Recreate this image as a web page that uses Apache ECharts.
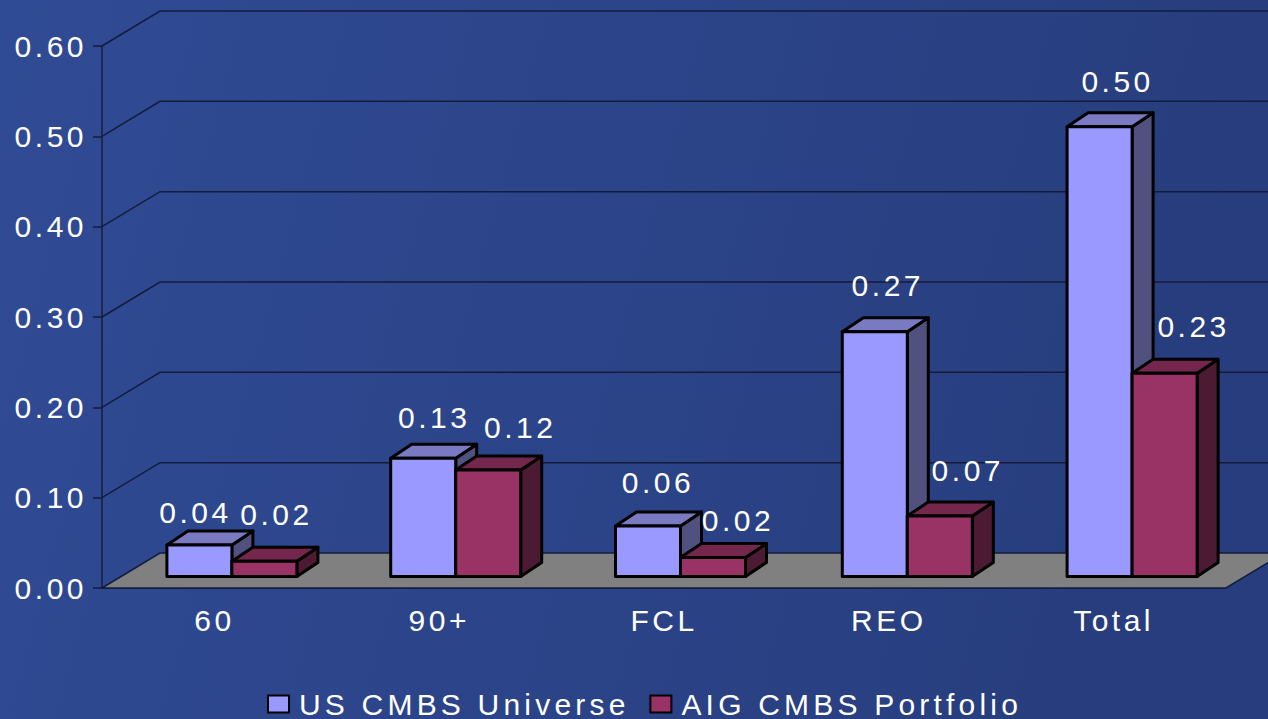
<!DOCTYPE html>
<html lang="en">
<head>
    <meta charset="UTF-8">
    <title>US CMBS Universe vs AIG CMBS Portfolio</title>
    <script src="https://cdn.jsdelivr.net/npm/echarts@6/dist/echarts.min.js"></script>
    <style>
        html, body { margin: 0; padding: 0; background: #2c4588; overflow: hidden; }
        #chart { width: 1268px; height: 719px; }
        /* wide tracking of the original slide, only the svg renderer can do this */
        #chart text { letter-spacing: 3.5px; }
    </style>
</head>
<body>
    <div id="chart"></div>
    <script>
        const categories = ['60', '90+', 'FCL', 'REO', 'Total'];
        const seriesNames = ['US CMBS Universe', 'AIG CMBS Portfolio'];
        const usCmbsUniverse = [0.035, 0.131, 0.056, 0.271, 0.498];
        const aigCmbsPortfolio = [0.017, 0.118, 0.021, 0.067, 0.225];
        const yTicks = [0, 0.1, 0.2, 0.3, 0.4, 0.5, 0.6];

        const FONT = 'Liberation Sans, Arial, sans-serif';
        const WALL = { x: 58, y: -35 };   // back wall offset from the front plane
        const BAR = { x: 18.5, y: -11.5, w: 65, dx: 21, dy: -14 };
        // the original's bar groups are not evenly spaced
        const groupDx = [-1, -2, -2, 0, 0];
        // label nudges per series and category, hand placed in the original
        const labelDx = [[-4, 11, 10, 13, 18], [12, 32, 25, 28, 29]];
        const labelDy = [[-32, -41, -43, -46, -45], [-47, -42, -37, -45, -47]];

        function renderWall(params, api) {
            const p = api.coord([0, api.value(0)]);
            const x0 = params.coordSys.x;
            const y = p[1];
            const line = { stroke: '#141c3c', lineWidth: 1.5, fill: null };
            const children = [];
            if (api.value(0) === 0) {
                const x1 = x0 + params.coordSys.width;
                children.push({
                    type: 'polygon',
                    shape: { points: [[x0, y], [x0 + WALL.x, y + WALL.y], [x1 + WALL.x, y + WALL.y], [x1, y]] },
                    style: { fill: '#808080', stroke: '#141c3c', lineWidth: 1.5 }
                });
            } else {
                children.push({
                    type: 'polyline',
                    shape: { points: [[x0, y], [x0 + WALL.x, y + WALL.y], [1268, y + WALL.y]] },
                    style: line
                });
            }
            return { type: 'group', children: children };
        }

        function makeBarRenderer(seriesIndex, colors) {
            return function (params, api) {
                const i = api.value(0);
                const val = api.value(1);
                const base = api.coord([i, 0]);
                const top = api.coord([i, val]);
                const x0 = base[0] + BAR.x + groupDx[i] + (seriesIndex === 0 ? -BAR.w : 0);
                const x1 = x0 + BAR.w;
                const y0 = top[1] + BAR.y;
                const y1 = base[1] + BAR.y;
                const edge = { stroke: '#000', lineWidth: 3, lineJoin: 'round' };
                const mid = (x0 + x1) / 2;
                return {
                    type: 'group',
                    children: [
                        {
                            type: 'polygon',
                            shape: { points: [[x1, y0], [x1 + BAR.dx, y0 + BAR.dy], [x1 + BAR.dx, y1 + BAR.dy], [x1, y1]] },
                            style: Object.assign({ fill: colors.side }, edge)
                        },
                        {
                            type: 'polygon',
                            shape: { points: [[x0, y0], [x0 + BAR.dx, y0 + BAR.dy], [x1 + BAR.dx, y0 + BAR.dy], [x1, y0]] },
                            style: Object.assign({ fill: colors.top }, edge)
                        },
                        {
                            type: 'rect',
                            shape: { x: x0, y: y0, width: BAR.w, height: y1 - y0 },
                            style: Object.assign({ fill: colors.front }, edge)
                        },
                        {
                            type: 'text',
                            x: mid + labelDx[seriesIndex][i],
                            y: y0 + labelDy[seriesIndex][i],
                            style: {
                                text: val.toFixed(2),
                                fill: '#fff',
                                font: '30px ' + FONT,
                                align: 'center',
                                verticalAlign: 'middle'
                            }
                        }
                    ]
                };
            };
        }

        const chart = echarts.init(document.getElementById('chart'), null, { renderer: 'svg' });
        chart.setOption({
            animation: false,
            backgroundColor: new echarts.graphic.LinearGradient(0, 0, 1, 0.15, [
                { offset: 0, color: '#304b95' },
                { offset: 1, color: '#273d7d' }
            ]),
            grid: { left: 102, right: 42, top: 46, bottom: 131 },
            xAxis: {
                type: 'category',
                data: categories,
                axisLine: { lineStyle: { color: '#141c3c', width: 1.5 } },
                axisTick: { length: 9, lineStyle: { color: '#141c3c', width: 1.5 } },
                axisLabel: { color: '#fff', fontSize: 30, fontFamily: FONT, margin: 17 }
            },
            yAxis: {
                type: 'value',
                min: 0,
                max: 0.6,
                interval: 0.1,
                splitLine: { show: false },
                axisLine: { show: true, lineStyle: { color: '#1c2850', width: 2 } },
                axisTick: { show: true, length: 9, lineStyle: { color: '#141c3c', width: 1.5 } },
                axisLabel: {
                    color: '#fff',
                    fontSize: 30,
                    fontFamily: FONT,
                    margin: 15,
                    formatter: v => v.toFixed(2)
                }
            },
            legend: {
                left: 267,
                top: 689,
                padding: 0,
                itemWidth: 21,
                itemHeight: 17,
                itemGap: 87,
                icon: 'rect',
                data: seriesNames,
                textStyle: { color: '#fff', fontSize: 30, fontFamily: FONT, padding: [0, 0, 6, 5] }
            },
            series: [
                {
                    type: 'custom',
                    name: 'wall',
                    clip: false,
                    silent: true,
                    renderItem: renderWall,
                    encode: { y: 0 },
                    data: yTicks.map(v => [v])
                },
                {
                    type: 'custom',
                    name: seriesNames[0],
                    clip: false,
                    renderItem: makeBarRenderer(0, { front: '#9999ff', top: '#7a7ac2', side: '#51517f' }),
                    itemStyle: { color: '#9999ff', borderColor: '#000', borderWidth: 3 },
                    encode: { x: 0, y: 1 },
                    data: usCmbsUniverse.map((v, i) => [i, v])
                },
                {
                    type: 'custom',
                    name: seriesNames[1],
                    clip: false,
                    renderItem: makeBarRenderer(1, { front: '#993366', top: '#75264d', side: '#4d1a33' }),
                    itemStyle: { color: '#993366', borderColor: '#000', borderWidth: 3 },
                    encode: { x: 0, y: 1 },
                    data: aigCmbsPortfolio.map((v, i) => [i, v])
                }
            ]
        });

        // legend text is tracked a little wider than the numbers
        document.querySelectorAll('#chart text').forEach(t => {
            if (seriesNames.includes(t.textContent)) t.style.letterSpacing = '4.2px';
        });
    </script>
</body>
</html>
